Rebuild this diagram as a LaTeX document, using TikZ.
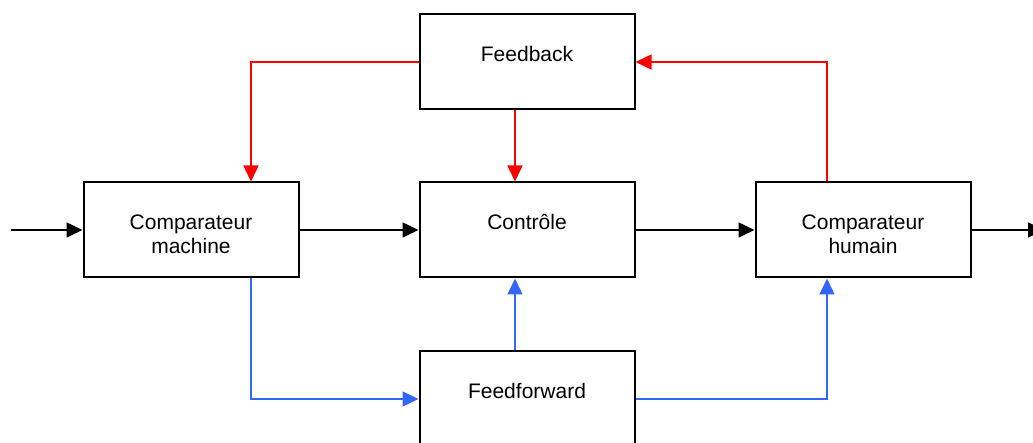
\documentclass[tikz,border=0pt]{standalone}
\usepackage{fontspec}
\setmainfont{Liberation Sans}
\usetikzlibrary{arrows.meta}
\definecolor{fbred}{RGB}{255,0,0}
\definecolor{ffblue}{RGB}{51,102,255}
\tikzset{
  block/.style={draw=black, line width=2pt, minimum width=215pt, minimum height=95pt, inner sep=0pt, fill=white},
  lbl/.style={font=\fontsize{21}{24}\selectfont, align=center, inner sep=0pt, anchor=base},
  flow/.style={line width=1.5pt, -{Triangle[length=16pt,width=15pt]}},
}
\begin{document}
\begin{tikzpicture}[x=1pt,y=-1pt]
\useasboundingbox (0,0) rectangle (1033,443);
\clip (0,0) rectangle (1033,443);

% blocks
\node[block] (fb) at (527,62)  {};
\node[block] (cm) at (191,230) {};
\node[block] (ct) at (527,230) {};
\node[block] (ch) at (863,230) {};
\node[block] (ff) at (527,399) {};

% block texts (base anchor sits on the last line)
\node[lbl] (fbt) at (fb.center) {Feedback};
\node[lbl] (cmt) at ([yshift=-24pt]cm.center) {Comparateur\\machine};
\node[lbl] (ctt) at (ct.center) {Contrôle};
\node[lbl] (cht) at ([yshift=-24pt]ch.center) {Comparateur\\humain};
\node[lbl] (fft) at (ff.center) {Feedforward};

% main signal path
\coordinate (in)  at (11,230);
\coordinate (out) at (1044,230);
\draw[flow] (in) -- (cm);
\draw[flow] (cm) -- (ct);
\draw[flow] (ct) -- (ch);
\draw[flow] (ch) -- (out);

% feedback loop
\draw[flow, fbred] (fb.west) -| ([xshift=60pt]cm.north);
\draw[flow, fbred] ([xshift=-12pt]fb.south) -- ([xshift=-12pt]ct.north);
\draw[flow, fbred] ([xshift=-36pt]ch.north) |- (fb.east);

% feedforward path
\draw[flow, ffblue] ([xshift=60pt]cm.south) |- (ff.west);
\draw[flow, ffblue] ([xshift=-12pt]ff.north) -- ([xshift=-12pt]ct.south);
\draw[flow, ffblue] (ff.east) -| ([xshift=-36pt]ch.south);
\end{tikzpicture}
\end{document}
